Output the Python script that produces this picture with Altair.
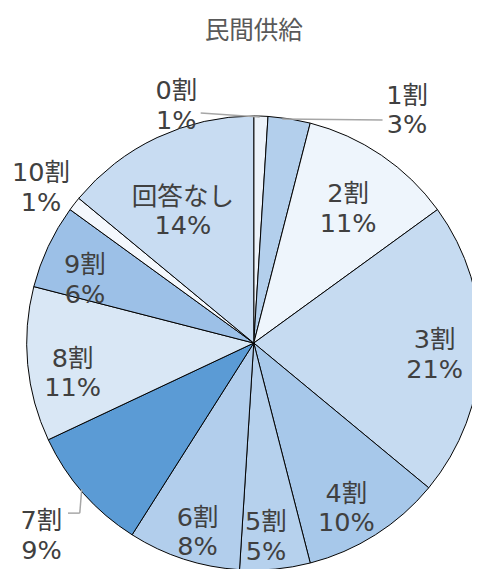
import altair as alt
import pandas as pd

# ---- data ----
categories = ["0割", "1割", "2割", "3割", "4割", "5割", "6割", "7割", "8割", "9割", "10割", "回答なし"]
values = [1, 3, 11, 21, 10, 5, 8, 9, 11, 6, 1, 14]
pct_labels = ["1%", "3%", "11%", "21%", "10%", "5%", "8%", "9%", "11%", "6%", "1%", "14%"]

# ---- styling / layout (not data) ----
fills = ["#edf3fa", "#b3cfec", "#eef5fc", "#c6dbf1", "#a7c8ea", "#b6d1ed",
         "#b2ceec", "#5b9bd5", "#d9e7f5", "#9cc0e7", "#f4f8fd", "#c8dcf2"]
label_radius = [268, 296, 179, 184, 180, 183, 187, 282, 185, 189, 277, 165]
label_angle_offset_deg = [-18.9, 22.8, -1.8, -2.7, 0.8, 1.5, -0.2, 1.4, 0.4, -0.5, 0.8, -0.7]
CX, CY, R = 250, 336, 231

rows = []
cum = 0.0
for i, (c, v) in enumerate(zip(categories, values)):
    mid = cum + v / 2
    cum += v
    rows.append({
        "order": i,
        "cat": c,
        "value": v,
        "label": f"{c}\n{pct_labels[i]}",
        "lab_theta": (mid + label_angle_offset_deg[i] / 3.6) % 100,
        "lab_r": label_radius[i],
    })
df = pd.DataFrame(rows)

theta_scale = alt.Scale(domain=[0, 100], range=[0, 6.283185307179586])

pie = alt.Chart(df).mark_arc(stroke="#000000", strokeWidth=1, outerRadius=R).encode(
    theta=alt.Theta("value:Q", stack=True, scale=theta_scale),
    order=alt.Order("order:Q"),
    color=alt.Color("cat:N", scale=alt.Scale(domain=categories, range=fills), legend=None),
    x=alt.value(CX),
    y=alt.value(CY),
)

leaders = pd.DataFrame({
    "x1": [196, 381, 61, 73],
    "y1": [102, 109, 509, 509],
    "x2": [256, 279, 73, 75],
    "y2": [106, 108, 509, 485],
})
leader = alt.Chart(leaders).mark_rule(color="#a6a6a6", strokeWidth=1.5).encode(
    x=alt.X("x1:Q", scale=None),
    y=alt.Y("y1:Q", scale=None),
    x2="x2:Q",
    y2="y2:Q",
)

labels = alt.Chart(df).mark_text(
    font="DejaVu Sans, Noto Sans CJK JP",
    fontSize=26,
    color="#404040",
    lineBreak="\n",
    lineHeight=30,
    align="center",
    baseline="middle",
).encode(
    theta=alt.Theta("lab_theta:Q", stack=False, scale=theta_scale),
    radius=alt.Radius("lab_r:Q", scale=None),
    text="label:N",
    x=alt.value(CX),
    y=alt.value(CY),
)

title = alt.Chart(pd.DataFrame({"t": ["民間供給"]})).mark_text(
    font="Noto Sans CJK JP", fontSize=25, color="#595959", align="center", baseline="middle"
).encode(text="t:N", x=alt.value(250), y=alt.value(19))

chart = alt.layer(pie, leader, labels, title).properties(
    width=472, height=561, padding=0,
    autosize=alt.AutoSizeParams(type="none"),
).configure_view(stroke=None)

chart.save("out.html", embed_options={"renderer": "svg", "actions": False})
